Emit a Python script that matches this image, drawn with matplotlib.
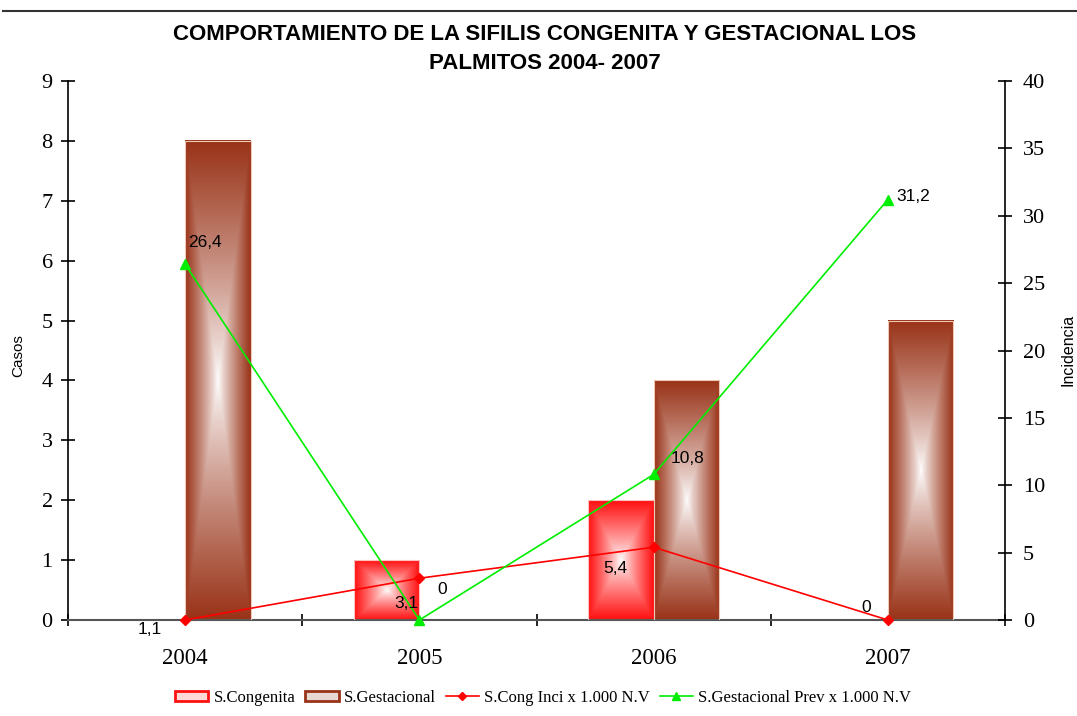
import numpy as np
import matplotlib
matplotlib.use("Agg")
import matplotlib.pyplot as plt
from matplotlib.patches import Patch, Rectangle
from matplotlib.lines import Line2D
from matplotlib.colors import to_rgb

# ---------------- data ----------------
years = ["2004", "2005", "2006", "2007"]
congenita_casos = [0, 1, 2, 0]
gestacional_casos = [8, 0, 4, 5]
cong_inci = [0, 3.1, 5.4, 0]
cong_inci_labels = ["1,1", "3,1", "5,4", "0"]
gest_prev = [26.4, 0, 10.8, 31.2]
gest_prev_labels = ["26,4", "0", "10,8", "31,2"]

title = "COMPORTAMIENTO DE LA SIFILIS CONGENITA Y GESTACIONAL LOS\nPALMITOS 2004- 2007"
left_label = "Casos"
right_label = "Incidencia"
legend_labels = ["S.Congenita", "S.Gestacional", "S.Cong Inci x 1.000 N.V",
                 "S.Gestacional Prev x 1.000 N.V"]

# ---------------- style ----------------
RED = "#ff1010"
BROWN = "#993318"
LINE_RED = "#ff0000"
LINE_GREEN = "#00ee00"
SERIF = "Liberation Serif"
SANS = "Liberation Sans"

fig = plt.figure(figsize=(10.77, 7.16), dpi=100)
ax = fig.add_axes([68/1077, 1-620/716, (1005-68)/1077, (620-81)/716])
ax2 = ax.twinx()

x = np.arange(len(years))
bw = 0.28


def gradient_bar(axis, x0, w, h, base, edge):
    if h <= 0:
        return
    ny, nx = 200, 80
    u = np.linspace(-1, 1, nx)
    v = np.linspace(-1, 1, ny)
    U, V = np.meshgrid(u, v)
    t = np.maximum(np.abs(U), np.abs(V))
    t = np.clip(t, 0, 1) ** 0.85
    b = np.array(to_rgb(base))
    img = (1 - t)[..., None] * np.ones(3) + t[..., None] * b
    axis.imshow(img, extent=[x0, x0 + w, 0, h], aspect="auto",
                origin="lower", zorder=2, interpolation="bilinear")
    axis.add_patch(Rectangle((x0, 0), w, h, fill=False, edgecolor=edge,
                             lw=0.8, zorder=3))


for i in range(len(years)):
    gradient_bar(ax, x[i] - bw, bw, congenita_casos[i], RED, "#ffc0c0")
    gradient_bar(ax, x[i], bw, gestacional_casos[i], BROWN, "#f0c8b8")

ax.set_xlim(-0.5, len(years) - 0.5)
ax.set_ylim(0, 9)
ax.set_yticks(range(0, 10))
ax2.set_ylim(0, 40)
ax2.set_yticks(range(0, 41, 5))

# lines
ax2.plot(x, cong_inci, color=LINE_RED, lw=1.2, marker="D", ms=5, zorder=5,
         clip_on=False)
ax2.plot(x, gest_prev, color=LINE_GREEN, lw=1.2, marker="^", ms=7, zorder=5,
         clip_on=False)

# data labels (offsets in pixels)
cong_offsets = [(-35, -10), (-13, -25), (-38, -21), (-22, 12)]
gest_offsets = [(20, 22), (23, 30), (34, 16), (25, 3)]
for i in range(len(years)):
    ax2.annotate(cong_inci_labels[i], (x[i], cong_inci[i]),
                 xytext=cong_offsets[i], textcoords="offset pixels",
                 ha="center", va="center", fontsize=12.5, family=SANS,
                 color="black", zorder=6, annotation_clip=False)
    ax2.annotate(gest_prev_labels[i], (x[i], gest_prev[i]),
                 xytext=gest_offsets[i], textcoords="offset pixels",
                 ha="center", va="center", fontsize=12.5, family=SANS,
                 color="black", zorder=6, annotation_clip=False)

# spines / ticks
for a in (ax, ax2):
    a.spines["top"].set_visible(False)
ax.spines["right"].set_visible(False)
ax2.spines["left"].set_visible(False)
ax2.spines["bottom"].set_visible(False)
ax.spines["bottom"].set_color("#555555")
ax.spines["bottom"].set_linewidth(1.5)
ax.spines["left"].set_linewidth(1.2)
ax2.spines["right"].set_linewidth(1.2)

ax.set_xticks(x)
ax.set_xticklabels(years, fontsize=16.5, family=SERIF)
ax.set_xticks(np.arange(-0.5, len(years), 1.0), minor=True)
ax.tick_params(axis="x", which="major", length=0, pad=20)
ax.tick_params(axis="x", which="minor", direction="inout", length=9,
               width=1.2, color="black")
ax.tick_params(axis="y", direction="inout", length=10, width=1.2, pad=6,
               labelsize=16)
ax2.tick_params(axis="y", direction="inout", length=10, width=1.2, pad=8,
                labelsize=16)
for lab in ax.get_yticklabels() + ax2.get_yticklabels():
    lab.set_family(SERIF)

# axis labels
fig.text(18/1077, 1-356/716, left_label, rotation=90, ha="center",
         va="center", fontsize=11, family=SANS)
fig.text(1068/1077, 1-350/716, right_label, rotation=90, ha="center",
         va="center", fontsize=11.5, family=SANS)

# title
fig.text(0.506, 1-49/716, title, ha="center", va="center", fontsize=16,
         fontweight="bold", family=SANS, linespacing=1.5)

# top rule
fig.add_artist(Line2D([3/1077, 1.0], [1-11/716, 1-11/716], color="#333333",
                      lw=1.5, transform=fig.transFigure))

# legend
handles = [
    Patch(facecolor="#ffd8d8", edgecolor=RED, lw=2),
    Patch(facecolor="#e8d8d4", edgecolor=BROWN, lw=2),
    Line2D([0], [0], color=LINE_RED, lw=1.2, marker="D", ms=4),
    Line2D([0], [0], color=LINE_GREEN, lw=1.2, marker="^", ms=6),
]
fig.legend(handles, legend_labels, loc="center", ncol=4,
           bbox_to_anchor=(543/1077, 1-698/716), frameon=False,
           prop={"family": SERIF, "size": 12}, handlelength=2.0,
           handleheight=0.6, columnspacing=0.6, handletextpad=0.3)

fig.savefig("out.png", dpi=100)
